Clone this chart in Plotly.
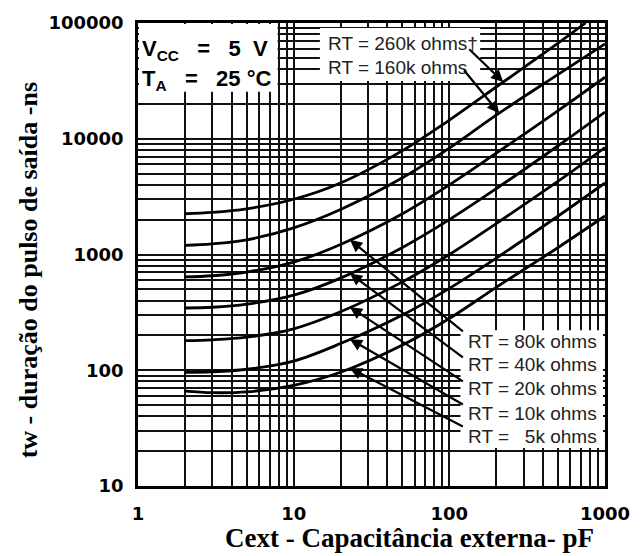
import numpy as np
import plotly.graph_objects as go

# ---- data ----
cext = [2, 3, 5, 10, 20, 50, 100, 200, 500, 1000]
tw_5k = [66, 64, 65, 74, 96, 165, 280, 520, 1150, 2150]
tw_10k = [96, 97, 102, 120, 170, 300, 510, 930, 2150, 4150]
tw_20k = [180, 183, 193, 228, 320, 580, 1000, 1850, 4300, 8400]
tw_40k = [345, 350, 372, 445, 625, 1150, 2000, 3700, 8700, 17000]
tw_80k = [640, 655, 705, 860, 1220, 2250, 4000, 7500, 17500, 34000]
tw_160k = [1200, 1235, 1340, 1700, 2450, 4600, 8300, 16000, 36000, 66000]
cext_260k = [2, 3, 5, 10, 20, 50, 100, 200, 500, 750]
tw_260k = [2250, 2310, 2480, 3000, 4150, 7900, 14500, 28000, 67000, 100000]

x_ticks = [1, 10, 100, 1000]
y_ticks = [10, 100, 1000, 10000, 100000]

series = [
    ("260k", cext_260k, tw_260k),
    ("160k", cext, tw_160k),
    ("80k", cext, tw_80k),
    ("40k", cext, tw_40k),
    ("20k", cext, tw_20k),
    ("10k", cext, tw_10k),
    ("5k", cext, tw_5k),
]

W, H = 642, 556
L, R, T, B = 138, 29, 22, 70
PW, PH = W - L - R, H - T - B
XR, YR = [0, 3], [1, 5]


def px_x(v):
    return L + (np.log10(v) - XR[0]) / (XR[1] - XR[0]) * PW


def px_y(v):
    return T + PH - (np.log10(v) - YR[0]) / (YR[1] - YR[0]) * PH


def paper_x(p):
    return (p - L) / PW


def paper_y(p):
    return (T + PH - p) / PH


def interp(xs, ys, x):
    return 10 ** np.interp(np.log10(x), np.log10(xs), np.log10(ys))


fig = go.Figure()
for name, xs, ys in series:
    fig.add_trace(go.Scatter(x=xs, y=ys, mode="lines", name=name,
                             line=dict(color="black", width=2.8, shape="spline", smoothing=1.0),
                             showlegend=False, hoverinfo="skip"))

gridc = "#111111"
axis_common = dict(
    type="log", showgrid=True, gridcolor=gridc, gridwidth=1.8,
    minor=dict(dtick="D1", showgrid=True, gridcolor=gridc, gridwidth=1.8, ticks=""),
    showline=True, linecolor="black", linewidth=2.5, mirror=True,
    ticks="", zeroline=False, exponentformat="none",
    tickfont=dict(family="DejaVu Sans", size=18, color="black", weight="bold"),
)
fig.update_xaxes(range=XR, tickmode="array", tickvals=x_ticks,
                 ticktext=[str(v) for v in x_ticks], ticklabelstandoff=10, **axis_common)
fig.update_yaxes(range=YR, tickmode="array", tickvals=y_ticks,
                 ticktext=[str(v) for v in y_ticks], ticklabelstandoff=8, **axis_common)

shapes = []
for (x0, y0, x1, y1) in [(139, 23, 280, 91), (323, 27, 486, 80), (466, 330, 611, 448)]:
    shapes.append(dict(type="rect", xref="paper", yref="paper",
                       x0=paper_x(x0), x1=paper_x(x1), y0=paper_y(y1), y1=paper_y(y0),
                       fillcolor="white", line=dict(width=0), layer="above"))

ann = []
nb = "\u00a0"
cond_font = dict(family="Liberation Sans", size=22, color="black", weight="bold")
ann.append(dict(text=f"V<sub>CC</sub>{nb*3}={nb*3}5{nb*2}V", x=paper_x(140), y=paper_y(49),
                xref="paper", yref="paper", xanchor="left", yanchor="middle",
                showarrow=False, font=cond_font))
ann.append(dict(text=f"T<sub>A</sub>{nb*3}={nb*3}25{nb}°C", x=paper_x(140), y=paper_y(79),
                xref="paper", yref="paper", xanchor="left", yanchor="middle",
                showarrow=False, font=cond_font))

lab_font = dict(family="Liberation Sans", size=19, color="#222222")
ann.append(dict(text="RT = 260k ohms†", x=paper_x(329), y=paper_y(43), xref="paper", yref="paper",
                xanchor="left", yanchor="middle", showarrow=False, font=lab_font))
ann.append(dict(text="RT = 160k ohms", x=paper_x(329), y=paper_y(67), xref="paper", yref="paper",
                xanchor="left", yanchor="middle", showarrow=False, font=lab_font))

low_labels = [("80k", "RT = 80k ohms", 341, 332), ("40k", "RT = 40k ohms", 364, 358),
              ("20k", "RT = 20k ohms", 388, 382), ("10k", "RT = 10k ohms", 413, 405),
              ("5k", f"RT ={nb*2} 5k ohms", 436, 427)]
data = {n: (xs, ys) for n, xs, ys in series}
for key, txt, ly, tail_y in low_labels:
    ann.append(dict(text=txt, x=paper_x(472), y=paper_y(ly), xref="paper", yref="paper",
                    xanchor="left", yanchor="middle", showarrow=False, font=lab_font))
    xs, ys = data[key]
    c_tip = 23
    t_tip = interp(xs, ys, c_tip)
    ann.append(dict(text="", x=np.log10(c_tip), y=np.log10(t_tip), xref="x", yref="y",
                    showarrow=True, arrowhead=2, arrowsize=1.1, arrowwidth=2.2, arrowcolor="black",
                    ax=468 - px_x(c_tip), ay=tail_y - px_y(t_tip), standoff=0))

for key, c_tip, tail in [("260k", 222, (474, 47)), ("160k", 209, (469, 68))]:
    xs, ys = data[key]
    t_tip = interp(xs, ys, c_tip)
    ann.append(dict(text="", x=np.log10(c_tip), y=np.log10(t_tip), xref="x", yref="y",
                    showarrow=True, arrowhead=2, arrowsize=1.1, arrowwidth=2.2, arrowcolor="black",
                    ax=tail[0] - px_x(c_tip), ay=tail[1] - px_y(t_tip), standoff=0))

title_font = dict(family="Liberation Serif", size=27, color="black", weight="bold")
ann.append(dict(text="Cext - Capacitância externa- pF", x=paper_x(414), y=paper_y(538),
                xref="paper", yref="paper", xanchor="center", yanchor="middle",
                showarrow=False, font=title_font))
ann.append(dict(text="tw - duração do pulso de saída -ns", x=paper_x(27), y=paper_y(270),
                xref="paper", yref="paper", xanchor="center", yanchor="middle",
                showarrow=False, textangle=-90,
                font=dict(family="Liberation Serif", size=26, color="black", weight="bold")))

fig.update_layout(
    width=W, height=H, margin=dict(l=L, r=R, t=T, b=B),
    paper_bgcolor="white", plot_bgcolor="white",
    shapes=shapes, annotations=ann, showlegend=False,
)
fig.write_html("out.html")
